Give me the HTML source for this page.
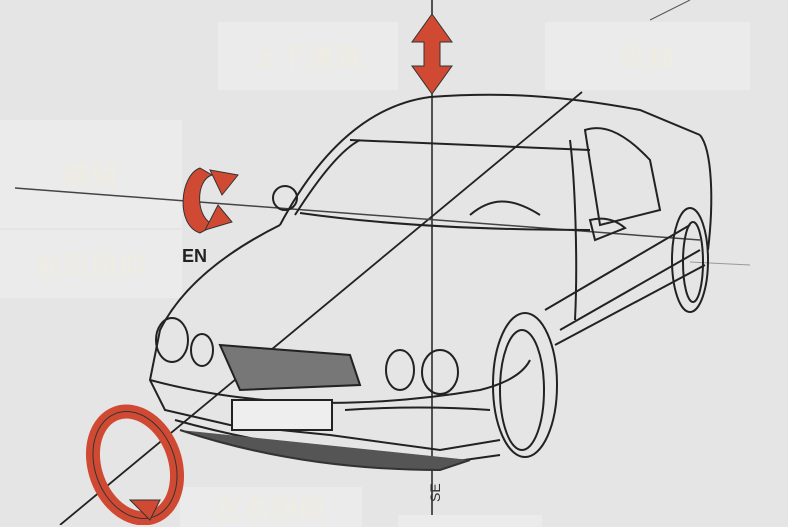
<!DOCTYPE html>
<html><head><meta charset="utf-8"><style>
body{margin:0;width:788px;height:525px;overflow:hidden;background:#e5e5e5;font-family:"Liberation Sans","Noto Sans CJK SC",sans-serif}
.lb{position:absolute;background:#ebebeb;color:#efece0;font-size:26px;display:flex;align-items:center;justify-content:center;letter-spacing:2px}
svg{position:absolute;left:0;top:0}
</style></head><body>
<div class="lb" style="left:218px;top:22px;width:180px;height:68px">上下弹跳</div>
<div class="lb" style="left:545px;top:22px;width:205px;height:68px">纵轴</div>
<div class="lb" style="left:0;top:120px;width:182px;height:108px">横轴</div>
<div class="lb" style="left:0;top:230px;width:182px;height:68px">前后俯仰</div>
<div class="lb" style="left:180px;top:487px;width:182px;height:40px">左右侧倾</div>
<div class="lb" style="left:398px;top:515px;width:144px;height:12px"></div>
<svg width="788" height="525" viewBox="0 0 788 525" fill="none" stroke="#222" stroke-width="2">
<!-- axes -->
<line x1="432" y1="0" x2="432" y2="515" stroke-width="1.5"/>
<line x1="60" y1="525" x2="582" y2="92" stroke-width="1.8"/>
<line x1="15" y1="188" x2="700" y2="240" stroke-width="1.5" stroke="#444"/>
<line x1="690" y1="262" x2="750" y2="265" stroke="#999" stroke-width="1"/>
<line x1="650" y1="20" x2="690" y2="0" stroke="#555" stroke-width="1"/>
<!-- roof -->
<path d="M280 225 C320 150 370 105 430 97 C500 92 560 95 640 110 L700 135"/>
<path d="M350 140 L590 150" />
<path d="M295 215 C330 160 350 145 360 140"/>
<path d="M300 213 Q420 230 590 230"/>
<path d="M470 215 C490 198 510 196 540 215"/>
<!-- side window -->
<path d="M585 130 C600 125 620 128 650 160 L660 210 L600 225 Z"/>
<path d="M570 140 C575 180 578 260 575 320"/>
<path d="M700 135 C712 150 714 200 708 250"/>
<!-- body -->
<path d="M280 225 C220 255 180 290 160 330 L150 380 L165 410 L230 425 L330 435 L440 450 L500 440"/>
<path d="M150 380 Q300 420 480 390 Q520 380 530 360"/>
<path d="M175 420 Q300 455 450 462 L500 455"/>
<path d="M560 330 L700 250" />
<path d="M555 345 L705 265" />
<path d="M545 310 L690 225"/>
<!-- wheels -->
<ellipse cx="525" cy="385" rx="32" ry="72"/>
<ellipse cx="522" cy="390" rx="22" ry="60"/>
<ellipse cx="690" cy="260" rx="18" ry="52"/>
<ellipse cx="693" cy="262" rx="10" ry="40"/>
<!-- lights & grille -->
<ellipse cx="172" cy="340" rx="16" ry="22"/>
<ellipse cx="202" cy="350" rx="11" ry="16"/>
<path d="M220 345 L350 355 L360 385 L240 390 Z" fill="#777" stroke-width="2"/>
<ellipse cx="400" cy="370" rx="14" ry="20"/>
<ellipse cx="440" cy="372" rx="18" ry="22"/>
<rect x="232" y="400" width="100" height="30" fill="#eee"/>
<path d="M345 410 Q420 405 490 410" />
<path d="M180 430 Q300 470 440 470 L470 460" fill="#555" stroke="#333"/>
<ellipse cx="285" cy="198" rx="12" ry="12"/>
<path d="M590 220 Q610 215 625 228 L595 240 Z"/>
<!-- red vertical arrow -->
<path d="M432 14 L452 42 L440 42 L440 66 L452 66 L432 94 L412 66 L424 66 L424 42 L412 42 Z" fill="#d04a33" stroke="#333" stroke-width="1"/>
<!-- red rotation -->
<path d="M200 168 C180 175 175 225 200 233 L215 225 C195 220 195 180 212 175 Z" fill="#d04a33" stroke="#333" stroke-width="1"/>
<path d="M210 170 L238 175 L222 195 Z M205 230 L232 222 L218 205 Z" fill="#d04a33" stroke="#333" stroke-width="1"/>
<text x="182" y="262" font-size="18" font-family="Liberation Sans" fill="#222" stroke="none" font-weight="bold">EN</text>
<!-- red ring -->
<ellipse cx="135" cy="465" rx="40" ry="55" transform="rotate(-20 135 465)" fill="none" stroke="#d04a33" stroke-width="14"/>
<ellipse cx="135" cy="465" rx="40" ry="55" transform="rotate(-20 135 465)" fill="none" stroke="#333" stroke-width="1"/>
<path d="M130 500 L150 520 L160 500 Z" fill="#d04a33" stroke="#333" stroke-width="1"/>
<text x="418" y="510" font-size="14" fill="#333" stroke="none" transform="rotate(-90 425 495)">SE</text>
</svg>
</body></html>
